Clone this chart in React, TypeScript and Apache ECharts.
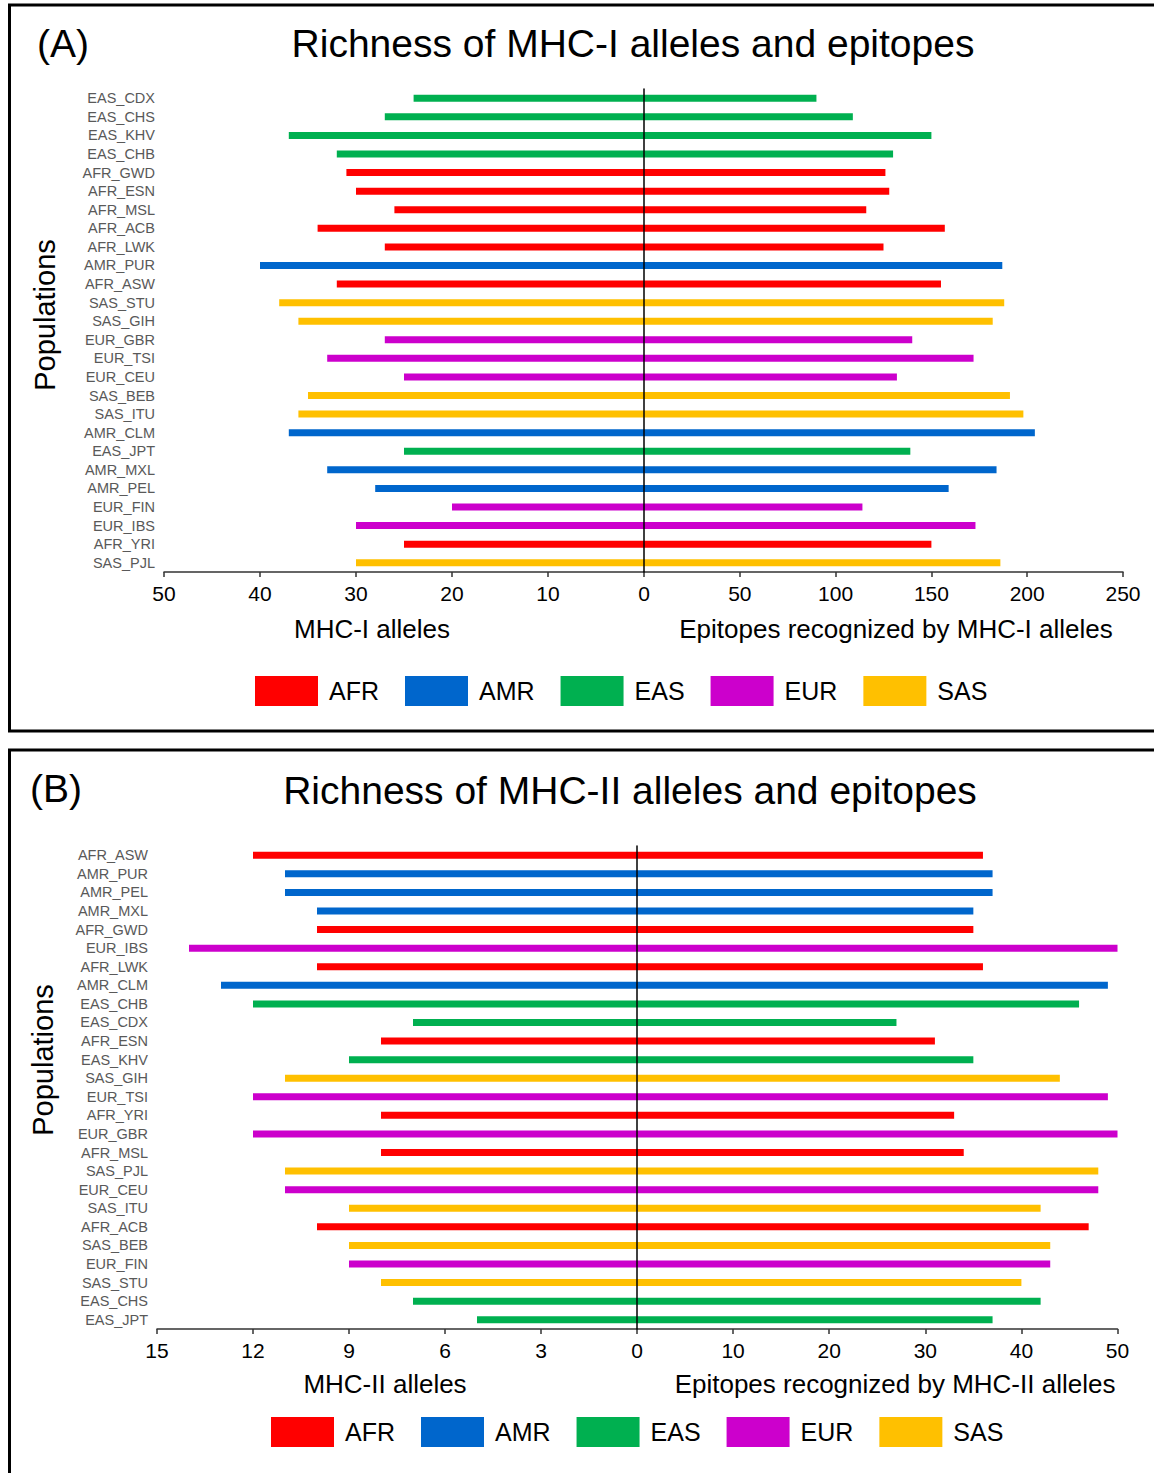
import React, { useEffect, useRef } from "react";
import * as echarts from "echarts";

// ---------- Data ----------
const REGIONS = ["AFR", "AMR", "EAS", "EUR", "SAS"];
const REGION_COLORS = ["#FF0000", "#0066CC", "#00B050", "#CC00CC", "#FFC000"];

const mhc1Populations = [
  "EAS_CDX", "EAS_CHS", "EAS_KHV", "EAS_CHB", "AFR_GWD", "AFR_ESN", "AFR_MSL",
  "AFR_ACB", "AFR_LWK", "AMR_PUR", "AFR_ASW", "SAS_STU", "SAS_GIH", "EUR_GBR",
  "EUR_TSI", "EUR_CEU", "SAS_BEB", "SAS_ITU", "AMR_CLM", "EAS_JPT", "AMR_MXL",
  "AMR_PEL", "EUR_FIN", "EUR_IBS", "AFR_YRI", "SAS_PJL",
];
const mhc1Alleles = [24, 27, 37, 32, 31, 30, 26, 34, 27, 40, 32, 38, 36, 27, 33, 25, 35, 36, 37, 25, 33, 28, 20, 30, 25, 30];
const mhc1Epitopes = [90, 109, 150, 130, 126, 128, 116, 157, 125, 187, 155, 188, 182, 140, 172, 132, 191, 198, 204, 139, 184, 159, 114, 173, 150, 186];

const mhc2Populations = [
  "AFR_ASW", "AMR_PUR", "AMR_PEL", "AMR_MXL", "AFR_GWD", "EUR_IBS", "AFR_LWK",
  "AMR_CLM", "EAS_CHB", "EAS_CDX", "AFR_ESN", "EAS_KHV", "SAS_GIH", "EUR_TSI",
  "AFR_YRI", "EUR_GBR", "AFR_MSL", "SAS_PJL", "EUR_CEU", "SAS_ITU", "AFR_ACB",
  "SAS_BEB", "EUR_FIN", "SAS_STU", "EAS_CHS", "EAS_JPT",
];
const mhc2Alleles = [12, 11, 11, 10, 10, 14, 10, 13, 12, 7, 8, 9, 11, 12, 8, 12, 8, 11, 11, 9, 10, 9, 9, 8, 7, 5];
const mhc2Epitopes = [36, 37, 37, 35, 35, 50, 36, 49, 46, 27, 31, 35, 44, 49, 33, 50, 34, 48, 48, 42, 47, 43, 43, 40, 42, 37];

const axisMaxA = [50, 250];
const axisIntA = [10, 50];
const axisMaxB = [15, 50];
const axisIntB = [3, 10];

const FONT = "'Liberation Sans', Arial, sans-serif";
const LABEL_FONT = "'Liberation Sans Narrow', 'Liberation Sans', Arial, sans-serif";

function buildSeries(cats: string[], values: number[], gridIdx: number) {
  return REGIONS.map((r, ri) => ({
    type: "bar",
    name: r,
    xAxisIndex: gridIdx,
    yAxisIndex: gridIdx,
    barWidth: 7,
    barGap: "-100%",
    itemStyle: { color: REGION_COLORS[ri] },
    data: values.map((v, i) => (cats[i].startsWith(r) ? v : "-")),
  }));
}

function xAxisCfg(gridIndex: number, max: number, interval: number, inverse: boolean) {
  return {
    type: "value",
    gridIndex,
    min: 0,
    max,
    interval,
    inverse,
    position: "bottom",
    axisLine: { show: true, onZero: false, lineStyle: { color: "#333", width: 1.5 } },
    axisTick: { show: true, length: 5, lineStyle: { color: "#333", width: 1.5 } },
    splitLine: { show: false },
    axisLabel: {
      show: true,
      showMinLabel: !inverse,
      fontSize: 21,
      color: "#000",
      fontFamily: FONT,
      margin: 11,
    },
  };
}

function yAxisLeft(gridIndex: number, cats: string[]) {
  return {
    type: "category",
    gridIndex,
    data: cats,
    inverse: true,
    position: "left",
    axisLine: { show: false, onZero: false },
    axisTick: { show: false },
    axisLabel: {
      show: true,
      fontSize: 14.5,
      color: "#595959",
      fontFamily: LABEL_FONT,
      margin: 9,
      interval: 0,
    },
  };
}

function yAxisRight(gridIndex: number, cats: string[]) {
  return {
    type: "category",
    gridIndex,
    data: cats,
    inverse: true,
    position: "left",
    z: 10,
    axisLine: { show: true, onZero: true, lineStyle: { color: "#000", width: 1.5 } },
    axisTick: { show: false },
    axisLabel: { show: false },
  };
}

function legendCfg(left: number, top: number) {
  return {
    left,
    top,
    padding: 0,
    orient: "horizontal",
    data: REGIONS,
    icon: "rect",
    itemWidth: 63,
    itemHeight: 30,
    itemGap: 26,
    selectedMode: false,
    textStyle: { fontSize: 25, color: "#000", fontFamily: FONT, padding: [0, 0, 0, 6] },
  };
}

function txt(text: string, x: number, y: number, size: number, extra: any = {}) {
  return {
    type: "text",
    x,
    y,
    silent: true,
    ...extra,
    style: {
      text,
      fontSize: size,
      fontFamily: FONT,
      fill: "#000",
      textAlign: extra.align || "center",
      textVerticalAlign: "middle",
    },
  };
}

export default function App() {
  const ref = useRef<HTMLDivElement>(null);

  useEffect(() => {
    if (!ref.current) return;
    const chart = echarts.init(ref.current, null, { renderer: "svg" });

    const option = {
      animation: false,
      backgroundColor: "#fff",
      grid: [
        { left: 164, top: 89, width: 480, height: 483 },
        { left: 644, top: 89, width: 479, height: 483 },
        { left: 157, top: 846, width: 480, height: 483 },
        { left: 637, top: 846, width: 480.5, height: 483 },
      ],
      xAxis: [
        xAxisCfg(0, axisMaxA[0], axisIntA[0], true),
        xAxisCfg(1, axisMaxA[1], axisIntA[1], false),
        xAxisCfg(2, axisMaxB[0], axisIntB[0], true),
        xAxisCfg(3, axisMaxB[1], axisIntB[1], false),
      ],
      yAxis: [
        yAxisLeft(0, mhc1Populations),
        yAxisRight(1, mhc1Populations),
        yAxisLeft(2, mhc2Populations),
        yAxisRight(3, mhc2Populations),
      ],
      legend: [legendCfg(255, 676), legendCfg(271, 1417)],
      series: [
        ...buildSeries(mhc1Populations, mhc1Alleles, 0),
        ...buildSeries(mhc1Populations, mhc1Epitopes, 1),
        ...buildSeries(mhc2Populations, mhc2Alleles, 2),
        ...buildSeries(mhc2Populations, mhc2Epitopes, 3),
      ],
      graphic: [
        {
          type: "rect",
          silent: true,
          shape: { x: 9.5, y: 5, width: 1170, height: 726 },
          style: { fill: "none", stroke: "#000", lineWidth: 3 },
        },
        {
          type: "rect",
          silent: true,
          shape: { x: 9.5, y: 750, width: 1170, height: 760 },
          style: { fill: "none", stroke: "#000", lineWidth: 3 },
        },
        txt("(A)", 37, 43, 39, { align: "left" }),
        txt("Richness of MHC-I alleles and epitopes", 633, 43, 39),
        txt("Populations", 45, 315, 29, { rotation: Math.PI / 2 }),
        txt("MHC-I alleles", 372, 629, 26),
        txt("Epitopes recognized by MHC-I alleles", 896, 629, 26),
        txt("(B)", 30, 788, 39, { align: "left" }),
        txt("Richness of MHC-II alleles and epitopes", 630, 790, 39),
        txt("Populations", 43, 1060, 29, { rotation: Math.PI / 2 }),
        txt("MHC-II alleles", 385, 1384, 26),
        txt("Epitopes recognized by MHC-II alleles", 895, 1384, 26),
      ],
    };

    chart.setOption(option as any);
    return () => chart.dispose();
  }, []);

  return (
    <div
      ref={ref}
      style={{ position: "absolute", left: 0, top: 0, width: 1154, height: 1473, background: "#fff" }}
    />
  );
}
